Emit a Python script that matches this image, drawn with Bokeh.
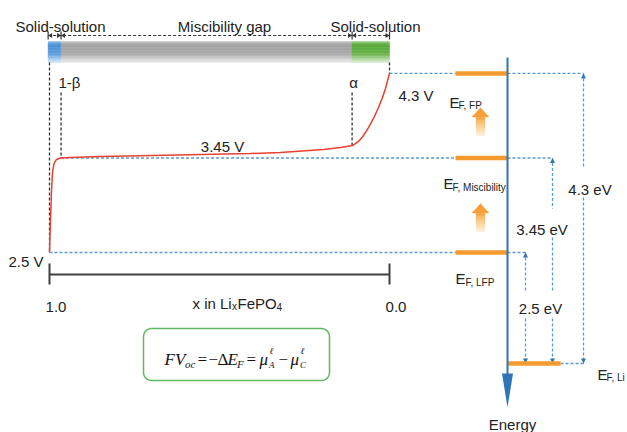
import math
import numpy as np
from bokeh.plotting import figure
from bokeh.models import Range1d, Label
from bokeh.embed import file_html
from bokeh.resources import INLINE

# ---------------- data ----------------
phase_names = ["Solid-solution", "Miscibility gap", "Solid-solution"]
comp_ticks = [1.0, 0.0]
comp_tick_labels = ["1.0", "0.0"]
one_minus_beta = 0.966
alpha_comp = 0.11
curve_comp = [1.000, 0.9985, 0.9971, 0.9941, 0.9912, 0.9868, 0.9794, 0.9676,
              0.9382, 0.8500, 0.6235, 0.4088, 0.3206, 0.1941, 0.1441, 0.1088,
              0.0912, 0.0765, 0.0618, 0.0471, 0.0324, 0.0206, 0.0118, 0.0]
curve_volt = [2.500, 2.671, 2.822, 3.123, 3.304, 3.394, 3.435, 3.450,
              3.455, 3.465, 3.480, 3.495, 3.505, 3.535, 3.555, 3.575,
              3.616, 3.676, 3.756, 3.847, 3.957, 4.058, 4.148, 4.300]
voltage_levels = [4.3, 3.45, 2.5]
voltage_labels = ["4.3 V", "3.45 V", "2.5 V"]
energy_gaps_ev = [4.3, 3.45, 2.5]
energy_gap_labels = ["4.3 eV", "3.45 eV", "2.5 eV"]
fermi_subs = ["F, FP", "F, Miscibility", "F, LFP", "F, Li"]

# ---------------- style / layout ----------------
SANS = "Liberation Sans"
SERIF = "Liberation Serif"
TXT = "#222222"
BLUE_AX = "#2E75B6"
BLUE_D = "#5B9BD5"
ORANGE = "#F39B2E"
RED = "#E8412F"
BLK = "#333333"
GREEN = "#62B862"

PX0, PXU = 389.0, 340.0
PY0, PYU = 252.0, 99.5


def X(px):
    return (PX0 - px) / PXU


def Y(py):
    return 2.5 + (PY0 - py) / PYU


def PX(c):
    return PX0 - PXU * c


def PY(v):
    return PY0 - PYU * (v - 2.5)


LI_Y = Y(363)

p = figure(width=627, height=432, x_range=Range1d(X(0), X(627)),
           y_range=Range1d(Y(432), Y(0)), toolbar_location=None,
           output_backend="svg", min_border=0,
           x_axis_location=None, y_axis_location=None)
p.grid.visible = False
p.outline_line_color = None
p.background_fill_color = "white"


def label(px, py, s, size=15, align="left", font=SANS, style="normal",
          color=TXT, x=None, y=None, x_offset=0):
    p.add_layout(Label(x=X(px) if x is None else x, y=Y(py) if y is None else y,
                       text=s, text_font=font, text_font_size=f"{size}px",
                       text_align=align, text_baseline="alphabetic",
                       text_font_style=style, text_color=color, x_offset=x_offset))


def grad(stops, t):
    for (t0, c0), (t1, c1) in zip(stops[:-1], stops[1:]):
        if t <= t1:
            f = (t - t0) / (t1 - t0) if t1 > t0 else 0
            a = [int(c0[i:i + 2], 16) for i in (1, 3, 5)]
            b = [int(c1[i:i + 2], 16) for i in (1, 3, 5)]
            return "#%02x%02x%02x" % tuple(round(a[k] + (b[k] - a[k]) * f) for k in range(3))
    return stops[-1][1]


# ---------------- phase bar ----------------
bar_edges = [1.004, one_minus_beta, alpha_comp, 0.0]
bar_stops = [
    [(0, "#9cc3e8"), (0.15, "#4a90d6"), (0.6, "#5e9edb"), (1, "#d8e8f7")],
    [(0, "#cccccc"), (0.15, "#a2a2a2"), (0.6, "#aaaaaa"), (1, "#ebebeb")],
    [(0, "#a6d492"), (0.15, "#58a83a"), (0.6, "#6ab44c"), (1, "#dbeed2")],
]
BT, BB, N = 41, 62, 14
L, R, T, B, C = [], [], [], [], []
for i in range(3):
    for j in range(N):
        L.append(bar_edges[i]); R.append(bar_edges[i + 1])
        T.append(Y(BT + (BB - BT) * j / N)); B.append(Y(BT + (BB - BT) * (j + 1) / N))
        C.append(grad(bar_stops[i], (j + 0.5) / N))
p.quad(left=L, right=R, top=T, bottom=B, fill_color=C, line_color=C, line_width=0.5)

for name, cx in zip(phase_names, [60, 224, 375]):
    label(cx, 26, name, align="center")

# dimension line
DIM = 35
p.segment(x0=[bar_edges[0]], y0=[Y(DIM)], x1=[bar_edges[-1]], y1=[Y(DIM)],
          line_color=BLK, line_width=1.2, line_dash="3 2")
p.segment(x0=bar_edges, y0=[Y(31)] * 4, x1=bar_edges, y1=[Y(39)] * 4,
          line_color=BLK, line_width=1.2)
axs, ays = [], []
for i in range(3):
    a, b = PX(bar_edges[i]), PX(bar_edges[i + 1])
    axs.append([X(a), X(a + 4), X(a + 4)]); ays.append([Y(DIM), Y(DIM - 2.5), Y(DIM + 2.5)])
    axs.append([X(b), X(b - 4), X(b - 4)]); ays.append([Y(DIM), Y(DIM - 2.5), Y(DIM + 2.5)])
p.patches(axs, ays, fill_color=BLK, line_color=None)

# ---------------- black dotted verticals ----------------
v_alpha = float(np.interp(alpha_comp, curve_comp[::-1], curve_volt[::-1]))
p.segment(x0=[1.0, one_minus_beta, alpha_comp, 0.0],
          y0=[Y(62), Y(92), Y(92), Y(62)],
          x1=[1.0, one_minus_beta, alpha_comp, 0.0],
          y1=[2.5, 3.45, v_alpha, 4.3],
          line_color=BLK, line_width=1.3, line_dash="3 2")
label(58, 82, "1-β")
label(353, 82, "α", align="center")

# ---------------- blue dashed guides ----------------
h_x0 = [0.0, one_minus_beta, 1.0, X(507), X(507), X(507), X(560)]
h_x1 = [X(455), X(455), X(455), X(583), X(552), X(525), X(583)]
h_y = [4.3, 3.45, 2.5, 4.3, 3.45, 2.5, LI_Y]
p.segment(x0=h_x0, y0=h_y, x1=h_x1, y1=h_y, line_color=BLUE_D,
          line_width=1.3, line_dash="3 2")

e_x = [583, 552, 525]
e_gaps = [[(168, 197)], [(208, 237), (292, 318)], [(292, 318)]]
sx0, sy0, sx1, sy1 = [], [], [], []
hx, hy = [], []
for ex, top, gaps in zip(e_x, energy_gaps_ev, e_gaps):
    start = PY(top)
    for g0, g1 in gaps:
        sx0.append(X(ex)); sy0.append(Y(start)); sx1.append(X(ex)); sy1.append(Y(g0))
        start = g1
    sx0.append(X(ex)); sy0.append(Y(start)); sx1.append(X(ex)); sy1.append(LI_Y)
    t = PY(top)
    hx.append([X(ex), X(ex - 2.5), X(ex + 2.5)]); hy.append([Y(t), Y(t + 5), Y(t + 5)])
    bpy = PY(LI_Y)
    hx.append([X(ex), X(ex - 2.5), X(ex + 2.5)]); hy.append([Y(bpy), Y(bpy - 5), Y(bpy - 5)])
p.segment(x0=sx0, y0=sy0, x1=sx1, y1=sy1, line_color=BLUE_D,
          line_width=1.3, line_dash="3 2")
p.patches(hx, hy, fill_color=BLUE_AX, line_color=None)

for s, cx, by in zip(energy_gap_labels, [589.5, 541.5, 540], [189, 229, 308]):
    label(cx, by, s, align="center")

# ---------------- voltage curve ----------------
p.line(curve_comp, curve_volt, line_color=RED, line_width=1.5)
label(398, 95, voltage_labels[0])
label(222, 146, voltage_labels[1], align="center")
label(43, 261, voltage_labels[2], align="right")

# ---------------- composition axis ----------------
p.segment(x0=[comp_ticks[0]], y0=[Y(274)], x1=[comp_ticks[1]], y1=[Y(274)],
          line_color="#404040", line_width=2)
p.segment(x0=comp_ticks, y0=[Y(263)] * 2, x1=comp_ticks, y1=[Y(284)] * 2,
          line_color="#404040", line_width=2)
for c, s in zip(comp_ticks, comp_tick_labels):
    label(0, 306, s, align="center", x=c, x_offset=6.5)
label(192, 303, "x in Li")
label(231.5, 306, "x", size=10)
label(237, 303, "FePO")
label(276, 306, "4", size=10)

# ---------------- energy diagram ----------------
ob_x0 = [X(455)] * 3 + [X(507)]
ob_x1 = [X(507)] * 3 + [X(560)]
ob_y = voltage_levels + [LI_Y]
p.segment(x0=ob_x0, y0=ob_y, x1=ob_x1, y1=ob_y, line_color=ORANGE, line_width=4.5)

p.segment(x0=[X(507)], y0=[Y(57)], x1=[X(507)], y1=[Y(376)],
          line_color=BLUE_AX, line_width=2)
p.patch([X(507), X(501.5), X(512.5)], [Y(407), Y(373), Y(373)],
        fill_color=BLUE_AX, line_color=None)
label(512, 424, "Energy", align="center")

# orange gradient arrows
ax_c = 480
oxs, oys, ocs = [], [], []
for tip in [107, 203]:
    oxs.append([X(ax_c), X(ax_c - 8.5), X(ax_c + 8.5)])
    oys.append([Y(tip), Y(tip + 9.5), Y(tip + 9.5)])
    ocs.append("#F6A03A")
    n = 10
    for j in range(n):
        y0 = tip + 9.5 + 19 * j / n
        y1 = tip + 9.5 + 19 * (j + 1) / n
        oxs.append([X(ax_c - 4.5), X(ax_c + 4.5), X(ax_c + 4.5), X(ax_c - 4.5)])
        oys.append([Y(y0), Y(y0), Y(y1), Y(y1)])
        ocs.append(grad([(0, "#F7A640"), (1, "#FFF3DE")], (j + 0.5) / n))
p.patches(oxs, oys, fill_color=ocs, line_color=ocs, line_width=0.3)

# Fermi level labels
for (ex, eb), (sx, sb), sub in zip([(449, 102), (443, 183), (455, 278), (597, 374)],
                                   [(458, 105), (452, 187), (465, 282), (606, 377)],
                                   fermi_subs):
    label(ex, eb, "E")
    label(sx, sb, sub, size=10)

# ---------------- formula box ----------------
def rounded_rect(x0, y0, x1, y1, r, n=8):
    pts = []
    corners = [(x1 - r, y0 + r, -90, 0), (x1 - r, y1 - r, 0, 90),
               (x0 + r, y1 - r, 90, 180), (x0 + r, y0 + r, 180, 270)]
    for cx, cy, a0, a1 in corners:
        for k in range(n + 1):
            a = math.radians(a0 + (a1 - a0) * k / n)
            pts.append((cx + r * math.cos(a), cy + r * math.sin(a)))
    return pts


rr = rounded_rect(143, 328, 329, 380, 8)
p.patch([X(a) for a, _ in rr], [Y(b) for _, b in rr], fill_alpha=0,
        line_color=GREEN, line_width=1.5)

formula = [
    ("FV", 164, 359, 17, "italic"),
    ("oc", 184.5, 363, 11, "italic"),
    ("=", 197, 359, 17, "normal"),
    ("\u2212", 208, 359, 17, "normal"),
    ("\u0394", 217, 359, 17, "normal"),
    ("E", 227, 359, 17, "italic"),
    ("F", 236.5, 363, 11, "italic"),
    ("=", 246, 359, 17, "normal"),
    ("\u03bc", 259, 359, 17, "italic"),
    ("\u2113", 269, 350, 9, "italic"),
    ("A", 268.5, 364, 9, "italic"),
    ("\u2212", 278, 359, 17, "normal"),
    ("\u03bc", 290, 359, 17, "italic"),
    ("\u2113", 300, 350, 9, "italic"),
    ("C", 299.5, 364, 9, "italic"),
]
for s, fx, fy, fs, st in formula:
    label(fx, fy, s, size=fs, font=SERIF, style=st, color="#111111")

open("out.html", "w").write(file_html(p, INLINE))
